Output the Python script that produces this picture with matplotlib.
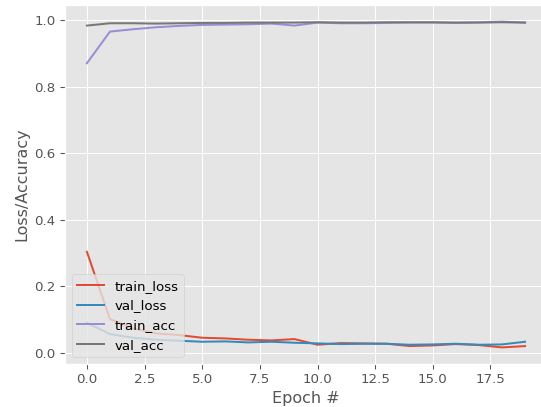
import matplotlib
matplotlib.use("Agg")
import matplotlib.pyplot as plt
import numpy as np

epochs = np.arange(20)

train_loss = [0.304, 0.102, 0.074, 0.059, 0.054, 0.046, 0.044, 0.040, 0.038, 0.042,
              0.025, 0.030, 0.029, 0.028, 0.021, 0.023, 0.027, 0.024, 0.017, 0.021]
val_loss = [0.091, 0.057, 0.046, 0.040, 0.037, 0.034, 0.035, 0.032, 0.034, 0.031,
            0.029, 0.027, 0.028, 0.028, 0.025, 0.026, 0.028, 0.025, 0.026, 0.034]
train_acc = [0.870, 0.965, 0.972, 0.978, 0.982, 0.985, 0.986, 0.987, 0.989, 0.983,
             0.992, 0.990, 0.990, 0.991, 0.992, 0.992, 0.991, 0.993, 0.995, 0.992]
val_acc = [0.983, 0.990, 0.990, 0.989, 0.990, 0.991, 0.991, 0.992, 0.992, 0.992,
           0.993, 0.992, 0.992, 0.993, 0.993, 0.993, 0.992, 0.992, 0.993, 0.992]

plt.style.use("ggplot")
# text in the reference is a little smaller than at 100 dpi
dpi = 96
fig = plt.figure(figsize=(541 / dpi, 407 / dpi), dpi=dpi)
ax = fig.add_axes([65 / 541, 43.3 / 407, 482 / 541, 358.4 / 407])

ax.plot(epochs, train_loss, label="train_loss")
ax.plot(epochs, val_loss, label="val_loss")
ax.plot(epochs, train_acc, label="train_acc")
ax.plot(epochs, val_acc, label="val_acc")

ax.set_xlabel("Epoch #")
ax.set_ylabel("Loss/Accuracy")
ax.legend(loc="lower left")

fig.savefig("out.png", dpi=dpi)
